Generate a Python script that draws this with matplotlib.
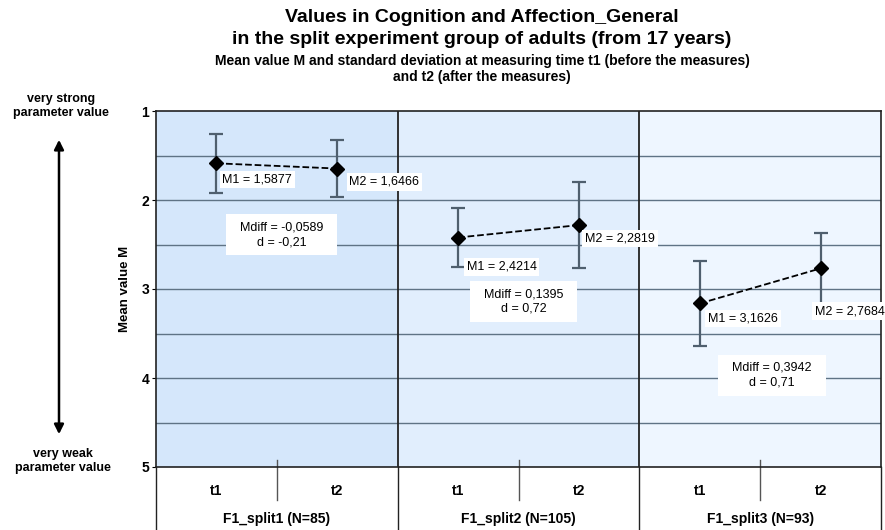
import matplotlib.pyplot as plt
from matplotlib.patches import FancyArrowPatch
from matplotlib.transforms import blended_transform_factory

plt.rcParams['font.family'] = ['Liberation Sans', 'DejaVu Sans']

groups = ["F1_split1 (N=85)", "F1_split2 (N=105)", "F1_split3 (N=93)"]
times = ["t1", "t2"]
m1 = [1.5877, 2.4214, 3.1626]
m2 = [1.6466, 2.2819, 2.7684]
sd1 = [0.33, 0.33, 0.48]
sd2 = [0.32, 0.48, 0.40]
mdiff = ["-0,0589", "0,1395", "0,3942"]
d_vals = ["-0,21", "0,72", "0,71"]
bg_colors = ["#d5e7fb", "#e1eefd", "#eef6ff"]

fig = plt.figure(figsize=(8.85, 5.30), dpi=100)
ax = fig.add_axes([156 / 885, 63 / 530, 725 / 885, 356 / 530])

ax.set_xlim(0, 6)
ax.set_ylim(5, 1)

# group backgrounds
for i, c in enumerate(bg_colors):
    ax.axvspan(2 * i, 2 * i + 2, color=c, zorder=0, lw=0)

# horizontal grid
for y in [1.5, 2, 2.5, 3, 3.5, 4, 4.5]:
    ax.axhline(y, color="#5f7385", lw=1.0, zorder=1)

# group dividers
for x in [2, 4]:
    ax.axvline(x, color="#222222", lw=1.3, zorder=2)

for s in ax.spines.values():
    s.set_color("#222222")
    s.set_linewidth(1.2)

ax.set_xticks([])
ax.set_yticks([1, 2, 3, 4, 5])
ax.set_yticklabels(["1", "2", "3", "4", "5"], fontweight="bold", fontsize=10)
ax.tick_params(axis="y", length=3, pad=2)
ax.set_ylabel("Mean value M", fontweight="bold", fontsize=9.5)
ax.yaxis.set_label_coords(-25 / 725, 0.5)

# means with error bars
for i in range(3):
    xs = [2 * i + 0.5, 2 * i + 1.5]
    ys = [m1[i], m2[i]]
    ax.errorbar(xs, ys, yerr=[sd1[i], sd2[i]], fmt="none", ecolor="#4f5f6e",
                elinewidth=1.6, capsize=5, capthick=1.6, zorder=3)
    ax.plot(xs, ys, ls="--", color="black", lw=1.3, marker="D",
            markersize=7, zorder=4)

box = dict(facecolor="white", edgecolor="none", pad=2)
lab = dict(fontsize=9, zorder=5, bbox=box)

# M labels
ax.text(0.55, m1[0] + 0.18, "M1 = 1,5877", ha="left", va="center", **lab)
ax.text(1.6, m2[0] + 0.15, "M2 = 1,6466", ha="left", va="center", **lab)
ax.text(2.57, m1[1] + 0.33, "M1 = 2,4214", ha="left", va="center", **lab)
ax.text(3.55, m2[1] + 0.15, "M2 = 2,2819", ha="left", va="center", **lab)
ax.text(4.57, m1[2] + 0.17, "M1 = 3,1626", ha="left", va="center", **lab)
ax.text(5.45, m2[2] + 0.48, "M2 = 2,7684", ha="left", va="center", **lab)

# Mdiff boxes
box2 = dict(facecolor="white", edgecolor="none", pad=5)
diff_pos = [(1.04, 2.39), (3.04, 3.14), (5.1, 3.97)]
for i, (x, y) in enumerate(diff_pos):
    ax.text(x, y, f"  Mdiff = {mdiff[i]}  \nd = {d_vals[i]}", ha="center",
            va="center", fontsize=9, linespacing=1.3, zorder=5, bbox=box2)

# category axis below the plot
tr = blended_transform_factory(ax.transData, ax.transAxes)
for x in [0, 2, 4, 6]:
    ax.plot([x, x], [0, -63 / 356], transform=tr, color="#222222", lw=1.0,
            clip_on=False)
for x in [1, 3, 5]:
    ax.plot([x, x], [0.02, -33 / 356], transform=tr, color="#555555", lw=1.0,
            clip_on=False)
for i in range(3):
    for j, t in enumerate(times):
        ax.text(2 * i + 0.5 + j, -24 / 356, t, transform=tr, ha="center",
                va="center", fontsize=10, fontweight="bold")
    ax.text(2 * i + 1, -52 / 356, groups[i], transform=tr, ha="center",
            va="center", fontsize=10, fontweight="bold")

# titles
tx = 482 / 885
fig.text(tx, 1 - 18 / 530, "Values in Cognition and Affection_General",
         ha="center", va="center", fontsize=14, fontweight="bold")
fig.text(tx, 1 - 40 / 530, "in the split experiment group of adults (from 17 years)",
         ha="center", va="center", fontsize=14, fontweight="bold")
fig.text(tx, 1 - 61 / 530,
         "Mean value M and standard deviation at measuring time t1 (before the measures)",
         ha="center", va="center", fontsize=10, fontweight="bold")
fig.text(tx, 1 - 77 / 530, "and t2 (after the measures)",
         ha="center", va="center", fontsize=10, fontweight="bold")

# left side arrow and labels
fig.text(61 / 885, 1 - 106 / 530, "very strong\nparameter value", ha="center",
         va="center", fontsize=9, fontweight="bold", linespacing=1.25)
fig.text(63 / 885, 1 - 461 / 530, "very weak\nparameter value", ha="center",
         va="center", fontsize=9, fontweight="bold", linespacing=1.25)
fig.add_artist(FancyArrowPatch(
    (59 / 885, 1 - 437 / 530), (59 / 885, 1 - 137 / 530),
    transform=fig.transFigure, arrowstyle="<|-|>", mutation_scale=14,
    color="black", lw=1.8))

fig.savefig("out.png", dpi=100)
